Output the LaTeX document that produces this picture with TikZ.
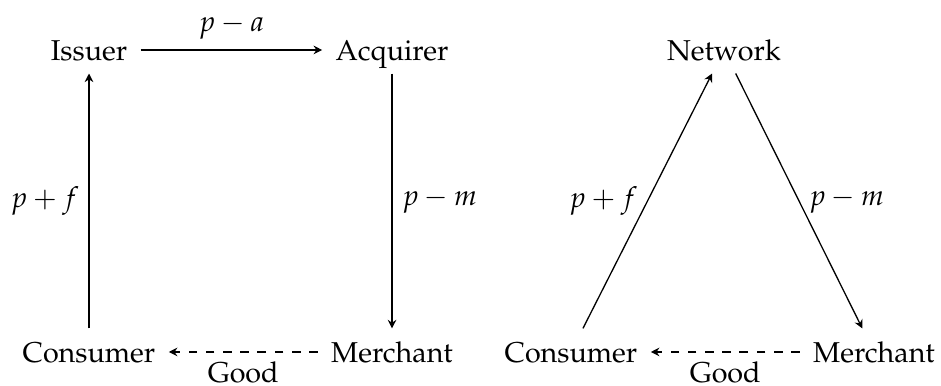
\documentclass[tikz,border=0pt]{standalone}
\usepackage[T1]{fontenc}
\usepackage{mathpazo}
\usetikzlibrary{arrows.meta}
\begin{document}
\begin{tikzpicture}[x=0.34843pt,y=-0.34843pt,
  party/.style={inner sep=4.5pt, text height=7pt, text depth=0pt, anchor=base},
  flow/.style={-{Stealth[length=3pt,width=3pt,inset=1pt]}, line width=0.45pt},
  goods/.style={flow, dashed},
  lbl/.style={inner sep=3.33pt}]
\useasboundingbox (0,0) rectangle (941,385);
% left diagram
\node[party] (iss)  at (89,60)  {Issuer};
\node[party] (acq)  at (392,60) {Acquirer};
\node[party] (con1) at (89,362) {Consumer};
\node[party] (mer1) at (392,362) {Merchant};
\draw[flow] (iss) -- node[lbl, midway, above] {$p-a$} (acq);
\draw[flow] (acq) -- node[lbl, midway, right] {$p-m$} (mer1);
\draw[flow] (con1) -- node[lbl, midway, left] {$p+f$} (iss);
\draw[goods] (mer1) -- node[lbl, midway, below] {Good} (con1);
% right diagram
\node[party] (net)  at (724,60)  {Network};
\node[party] (con2) at (571,362) {Consumer};
\node[party] (mer2) at (874,362) {Merchant};
\draw[flow] (con2) -- node[lbl, midway, left] {$p+f$} (net);
\draw[flow] (net) -- node[lbl, midway, right] {$p-m$} (mer2);
\draw[goods] (mer2) -- node[lbl, midway, below] {Good} (con2);
\end{tikzpicture}
\end{document}
